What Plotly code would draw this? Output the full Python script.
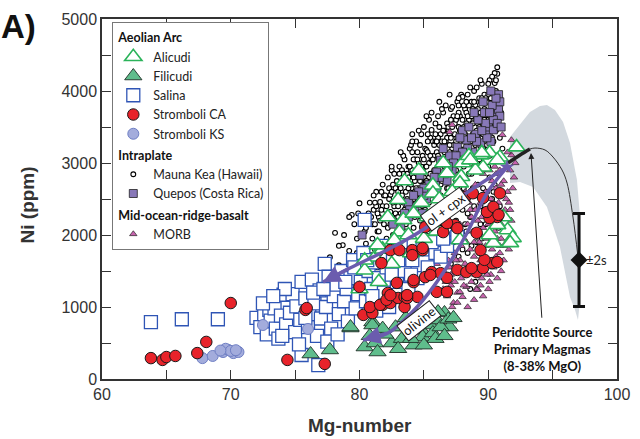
import plotly.graph_objects as go

# ---------------- data (Mg-number, Ni ppm) ----------------
mauna_kea = [
    (77.7,1690),(78.1,2030),(78.7,1860),(79.4,2280),(79.0,1520),(79.8,1950),(79.6,2150),(78.4,1580),(80.0,2440),(79.2,1780),
    (80.2,1650),(80.4,2050),(80.5,1880),(80.7,2300),(80.9,1720),(80.3,2200),(80.8,2450),(81.0,1950),(80.6,1530),(81.0,2150),
    (81.1,2350),(81.2,1800),(81.3,2600),(81.4,2050),(81.5,2250),(81.6,2460),(81.7,1900),(81.8,2700),(81.9,2150),(81.5,1650),(81.3,2400),(81.9,2550),
    (82.0,2350),(82.1,1950),(82.2,2800),(82.3,2500),(82.4,2560),(82.5,2150),(82.6,2700),(82.7,2400),(82.8,2650),(82.9,2250),(82.2,2100),(82.5,2900),(82.9,2050),(82.4,2320),(82.7,2850),
    (83.0,2600),(83.1,2950),(83.2,2300),(83.3,2750),(83.4,2450),(83.5,3050),(83.6,2600),(83.7,2850),(83.8,2200),(83.9,2700),(83.2,2500),(83.4,3100),(83.6,2380),(83.8,2950),(83.1,2150),(83.9,3200),(83.5,2800),(83.7,2500),
    (84.0,2900),(84.1,3150),(84.2,2500),(84.3,2750),(84.4,3300),(84.5,3150),(84.6,2650),(84.7,2950),(84.8,3400),(84.9,2400),(84.1,2650),(84.3,3050),(84.5,2850),(84.7,3250),(84.9,3100),(84.2,2350),(84.6,3450),(84.8,2750),(84.4,2550),(84.0,3250),
    (85.0,2800),(85.1,3200),(85.2,3180),(85.3,2550),(85.4,3000),(85.5,3350),(85.6,3460),(85.7,2750),(85.8,3100),(85.9,3550),(85.1,2950),(85.3,3400),(85.5,2650),(85.7,3300),(85.9,2900),(85.2,2450),(85.4,3600),(85.6,3050),(85.8,3250),(85.0,3500),(85.5,2300),(85.9,2550),
    (86.0,3150),(86.1,3650),(86.2,2850),(86.3,3400),(86.4,3050),(86.5,3700),(86.6,2950),(86.7,3300),(86.8,3550),(86.9,3100),(86.1,3350),(86.3,2700),(86.5,3200),(86.7,3800),(86.9,2800),(86.2,3500),(86.4,3750),(86.6,3450),(86.8,2650),(86.0,2500),(86.4,2400),(86.9,2300),
    (87.0,3400),(87.1,3750),(87.2,3780),(87.3,3000),(87.4,3550),(87.5,3300),(87.6,3850),(87.7,3150),(87.8,3650),(87.9,3450),(87.1,2900),(87.3,3650),(87.5,2750),(87.7,3500),(87.9,3950),(87.2,3200),(87.4,2600),(87.6,3050),(87.8,2850),(87.0,2500),(87.5,2200),(87.9,2450),(87.3,1900),(87.7,1700),
    (88.0,3920),(88.1,3500),(88.2,3750),(88.3,3250),(88.4,3950),(88.5,3600),(88.6,3050),(88.7,3850),(88.8,3400),(88.9,4000),(88.1,3100),(88.3,3700),(88.5,3300),(88.7,2850),(88.9,3650),(88.2,2800),(88.4,2500),(88.6,2250),(88.8,2650),(88.0,2350),(88.3,2050),(88.7,1850),(88.5,1550),(88.9,2400),
    (89.0,3800),(89.1,4050),(89.2,3550),(89.3,3900),(89.4,3350),(89.5,4100),(89.6,3700),(89.7,3950),(89.8,3450),(89.9,3850),(89.1,3200),(89.3,3650),(89.5,3000),(89.7,3300),(89.9,3600),(89.2,2700),(89.4,2400),(89.6,2900),(89.8,2150),(89.0,2550),(89.5,1950),(89.9,2600),(89.3,1750),
    (90.0,3950),(90.1,4150),(90.2,3700),(90.3,4000),(90.4,3500),(90.5,4110),(90.6,3850),(90.7,4240),(90.8,3600),(90.9,3350),(90.2,3300),(90.4,3900),(90.6,3100),(90.8,3050),(90.7,4330),(90.1,2800),(90.3,2500),(90.5,2700),(90.9,2400),(91.0,3700),(91.1,3200),(90.5,4250),
    (81.2,2150),(81.4,2300),(81.6,2200),(81.8,2400),(82.0,2550),(82.1,2250),(82.3,2650),(82.4,2150),(82.6,2450),(82.8,2300),(82.9,2750),(83.0,2400),(83.1,2700),(83.3,2550),(83.3,2900),(83.5,2350),(83.6,2750),(83.8,2650),(83.9,2450),(84.0,2700),
    (84.1,2900),(84.2,3050),(84.3,2600),(84.4,2850),(84.5,2450),(84.6,3000),(84.7,2750),(84.8,2550),(84.9,2900),(85.0,3050),(85.1,2700),(85.2,2950),(85.3,3150),(85.4,2800),(85.5,3100),(85.6,2850),(85.7,3050),(85.8,2700),(85.9,3300),(86.0,2900),
    (86.1,3100),(86.2,3250),(86.3,3000),(86.4,3300),(86.5,2850),(86.6,3150),(86.7,3050),(86.8,3350),(86.9,3500),(87.0,3150),(87.1,3350),(87.2,3500),(87.3,3250),(87.4,3400),(87.5,3600),(87.6,3350),(87.7,3700),(87.8,3200),(87.9,3300),(88.0,3600),
    (88.1,3800),(88.2,3400),(88.3,3550),(88.4,3350),(88.5,3800),(88.6,3500),(88.7,3650),(88.8,3750),(88.9,3300),(89.0,3600),(89.1,3450),(89.2,3750),(89.3,3500),(89.4,3850),(89.5,3600),(89.6,3400),(89.7,3750),(89.8,3900),(89.9,3500),(90.0,3700),
    (90.1,3550),(90.2,3900),(90.3,3650),(90.4,3750),(90.5,3900),(90.6,4000),(90.7,3700),(90.8,3850),(90.3,3350),(90.1,3100),(89.6,3200),(89.2,3100),(88.9,2950),(88.5,2850),(88.1,2650),(87.6,2550),(87.2,2350),(86.8,2150),(86.3,2100),(85.8,2000),
    (85.3,2050),(84.7,2200),(84.2,2100),(83.7,2300),(83.4,1950),(82.8,1850),(82.3,1750),(81.8,1650),(80.9,1450),(81.4,1550),
    (88.2,2150),(88.4,1750),(88.8,1550),(89.1,1900),(89.4,2150),(89.7,2350),(90.0,2200),(90.2,1900),(90.6,2300),(90.8,2100),(89.0,1350),(88.6,1250),(90.4,2600),(89.6,2650),(90.0,2950),(88.4,2300),(87.4,2050),(87.0,1850),(86.6,1750),(87.1,1600),(86.2,1850),(88.0,1800),
    (79.8,1750),(80.6,1800),(81.1,2550),(81.7,2600),(82.5,2950),(83.2,3150),(84.1,3400),(85.2,3650),(85.6,3700),(86.2,3850),(87.0,3950),(87.7,3900),(88.6,4050),(89.4,4150),(90.0,4100),(90.3,4200),
    (78.8,2000),(79.2,2250),(78.4,1850),(79.9,2300),
    (80.5,2100),(80.9,2250),(81.2,2450),(81.5,2050),(81.7,2350),(81.9,1850),(82.1,2400),(82.3,2250),(82.5,2600),(82.7,2150),
    (82.9,2500),(83.0,2250),(83.2,2650),(83.4,2850),(83.6,2150),(83.8,2800),(84.0,2450),(84.2,2800),(84.4,2650),(84.6,2800),
    (84.8,2950),(85.0,2600),(85.2,2750),(85.4,2450),(85.6,2650),(85.8,2900),(86.0,3300),(86.2,3050),(86.4,2750),(86.6,3300),
    (86.8,2950),(87.0,3250),(87.2,2950),(87.4,3150),(87.6,3650),(87.8,3450),(88.0,3250),(88.2,3050),(88.4,3650),(88.6,3300),
    (88.8,3550),(89.0,3250),(89.2,3350),(89.4,3700),(89.6,3550),(89.8,3700),(90.0,3450),(90.2,3450),(90.4,3300),(90.6,3450),
    (90.8,3950),(81.0,1650),(81.6,1750),(82.2,1900),(82.6,2000),(83.0,2050),(83.6,2050),(84.3,2250),(84.9,2650),(85.5,2850),
    (86.1,2650),(86.7,2850),(87.3,3100),(87.9,3100),(88.5,3150),(89.1,3650),(89.7,3600),(90.3,3800),(90.9,3750),(85.1,2350),
    (85.7,2550),(86.3,2550),(86.9,2650),(87.5,2900),(88.1,2950),(88.7,3100),(89.3,3050),(89.9,3250),(90.5,3550),(83.1,2850),
    (83.9,2950),(84.5,3050),(84.1,3300),(85.3,3300),(85.9,3400),(86.5,3450),(87.1,3600),(87.7,3800),(88.3,3850),(88.9,3850),
    (89.5,3900),(90.1,4000),(90.6,4150),
]

quepos = [
    (80.2,2000),(84.3,2390),(84.7,2440),(84.7,2830),(85.5,2625),(86.0,2875),(86.3,3040),(86.5,3000),(87.6,3220),(88.3,3320),
    (89.4,3280),(90.0,3430),(90.0,3500),(90.4,3460),(90.5,3690),(90.7,3780),(90.8,3740),(90.8,3950),(90.6,3600),(89.8,3550),
    (89.0,3400),(88.8,3150),(87.9,3050),(87.2,2900),(86.8,2750),(85.9,2700),(85.2,2500),(84.9,2300),(83.8,2250),(83.2,2100),
    (82.6,2150),(88.0,3450),(89.2,3600),(90.2,3300),(87.0,3100),(86.0,2600),(85.0,2550),(90.9,3850),(89.7,3700),(83.8,2450),(88.5,3500),
    (90.3,3800),(90.6,3900),(90.9,3650),(90.4,3600),(90.1,3700),(89.9,3350),(89.5,3450),(89.1,3300),(88.7,3350),(88.4,3200),
    (88.0,3150),(87.5,3100),(87.3,3000),(86.9,2950),(86.6,2850),(86.2,2800),(85.8,2800),(85.4,2700),(85.0,2650),(84.6,2600),
    (84.2,2550),(83.9,2350),(83.5,2300),(88.9,3700),(89.6,3850),(90.7,3550),(91.0,3500),(87.8,3350),(86.5,3200),(90.2,4000),
]

morb = [
    (87.2,3530),(87.0,3430),(91.1,3390),(91.8,3320),(91.8,3110),(90.9,2900),(91.2,2750),(91.5,2600),(90.6,2650),(90.2,2500),
    (90.8,2450),(91.3,2350),(89.9,2300),(90.4,2200),(91.0,2150),(89.6,2100),(90.1,2050),(90.7,1950),(91.4,2050),(89.3,1900),
    (89.8,1850),(90.3,1800),(90.9,1750),(88.9,1700),(89.4,1650),(89.9,1600),(90.4,1550),(91.0,1500),(88.5,1500),(89.0,1450),
    (89.5,1400),(90.1,1350),(88.3,1280),(89.1,1260),(88.0,1140),(87.3,1060),(89.2,1240),(87.6,1200),(88.7,1350),(87.9,1400),
    (88.2,1600),(88.6,1800),(88.1,1950),(88.8,2050),(89.2,2200),(88.6,2350),(89.4,2450),(89.8,2600),(90.3,2750),(87.8,2150),
    (87.4,1750),(87.0,1550),(86.7,1350),(86.9,1900),(87.5,2400),(88.2,2600),(89.0,2700),(89.6,2850),(90.5,2950),(91.6,2450),
    (91.2,1850),(90.6,1700),(91.7,2900),(86.5,1250),(87.1,1300),(88.4,1000),(89.6,1150),(90.0,1250),(87.8,1650),(91.5,3150),
    (87.8,1210),(87.6,1060),(87.2,1000),(89.1,1240),
    (88.8,1500),(89.2,1550),(89.7,1500),(90.2,1450),(90.7,1400),(91.2,1650),(91.6,1800),(91.0,1950),(90.5,2050),(90.0,2150),
    (89.5,2250),(89.0,2350),(88.5,2450),(88.0,2500),(91.8,2200),(91.4,2500),(91.0,2700),(90.6,2850),(90.1,2900),(89.5,2950),
    (89.1,2550),(88.7,2250),(88.3,1900),(87.9,1850),(87.5,1650),(87.1,1450),(86.8,1150),(87.4,1350),(88.1,1300),(88.9,1100),
    (89.4,1300),(89.9,1450),(90.4,1650),(90.9,1850),(91.3,2050),(91.7,2350),(91.9,2650),(92.0,2800),(92.1,3000),(88.9,1900),
    (89.4,2000),(89.8,1950),(90.3,2350),(90.8,2600),(88.4,2150),(87.7,1900),(87.3,2000),(86.9,1650),(86.3,1450),(86.0,1600),
    (86.4,1900),(85.8,1800),
]

salina = [
    (63.8,790),(66.2,830),(69.0,830),
    (72.0,850),(72.3,720),(72.6,900),(72.8,620),(73.0,960),(73.1,810),(73.4,980),(73.5,700),(73.9,880),(74.1,1170),(74.3,760),
    (74.6,920),(74.8,1180),(75.0,650),(75.1,1010),(75.4,820),(75.5,1350),(75.8,1120),(76.0,720),(76.1,900),(76.3,1380),
    (76.5,1050),(76.7,600),(76.9,1230),(77.0,840),(77.3,1600),(77.4,1000),(77.6,1420),(77.8,700),(78.0,1150),(78.2,1310),
    (78.4,900),(78.6,1500),(78.8,1080),(79.0,1250),(79.1,800),(79.3,1400),(79.5,1650),(79.7,980),(79.9,1180),(80.1,1350),
    (80.3,1750),(80.4,2210),(80.5,1080),(80.7,1500),(80.9,1250),(81.1,1620),(81.3,950),(81.5,1400),(81.7,1850),(81.9,1200),
    (82.1,1550),(82.3,1000),(82.6,1700),(82.9,1350),(83.2,1900),(83.5,1500),(83.8,1250),(84.1,1650),(84.5,1400),(84.9,1800),
    (85.3,1550),(85.9,1750),(86.3,1700),(86.8,1850),(87.6,1970),(75.5,333),(76.8,194),(73.7,560),(75.3,480),(77.5,520),
    (78.3,620),(74.2,1250),
    (72.5,1050),(73.3,1150),(74.0,600),(75.8,850),(76.4,1200),(77.2,1250),(78.9,1350),(79.6,1550),(80.6,1650),(81.0,1150),
    (82.5,1450),(83.0,1650),(84.0,1450),(85.6,1900),(86.5,1950),
]

filicudi = [
    (76.2,347),(77.7,403),(79.3,708),(79.3,722),(81.0,792),(81.0,750),(80.4,444),(81.2,500),(81.4,375),(82.5,500),
    (83.9,681),(84.8,681),(85.5,750),(86.0,819),(86.6,917),(87.0,722),(84.9,583),(85.7,639),(86.3,722),(83.3,560),
    (85.2,860),(86.9,830),(84.2,470),(82.0,620),
    (82.8,720),(83.6,850),(84.4,900),(85.9,560),(86.6,600),(87.3,850),(81.8,700),(80.8,600),(83.0,420),(84.0,560),
    (85.0,470),(86.1,930),
]

alicudi = [
    (92.2,3220),(90.9,3080),(90.1,3140),(89.4,3110),(88.0,3000),(86.8,2860),(87.9,2810),(89.6,2940),(90.7,3040),(85.7,2690),
    (83.4,2210),(83.1,2040),(85.7,2580),(87.8,2720),(83.0,2490),(82.7,1930),(80.4,1510),(81.2,1690),(81.8,1800),(84.2,2300),
    (84.8,2450),(86.2,2500),(91.5,2070),(91.9,1960),(91.7,1890),(90.7,2140),(90.4,1890),(90.1,2000),(91.2,2250),(86.0,2050),
    (85.0,1950),(84.0,1750),(82.5,1600),(81.5,1350),(80.0,1250),(83.5,2750),(84.6,2900),(86.5,3000),(88.5,3100),(89.0,2900),
    (87.2,2600),(85.3,2250),(83.8,2000),(82.2,2250),(81.4,1860),(80.4,1650),(87.8,1930),(88.6,3040),(89.5,3140),
]

stromboli_ca = [
    (63.8,290),(64.7,265),(65.0,305),(65.7,320),(67.4,360),(68.1,515),(70.0,1055),(74.4,265),(75.8,960),(77.3,210),
    (80.0,1280),(80.3,890),(81.0,915),(80.8,1000),(81.8,1030),(82.4,1055),(83.0,1125),(83.5,1140),(83.5,1000),(84.5,1140),
    (86.0,1210),(86.8,1210),(81.6,1030),(82.2,1195),(83.7,1125),(82.1,1100),(82.4,1165),(83.7,1165),(82.9,1335),(84.2,1345),
    (85.1,1415),(85.6,1485),(86.3,1470),(84.2,1375),(85.5,1445),(86.8,1405),(81.7,1610),(82.4,1790),(83.1,1790),(84.1,1790),
    (84.9,1790),(84.9,1820),(84.1,1720),(87.6,1515),(88.3,1485),(89.1,1485),(89.6,1540),(90.3,1610),(90.7,1625),(89.7,1655),
    (88.7,1540),(89.4,1790),(86.5,2040),(87.4,2140),(85.1,2110),(86.8,2165),(87.6,2095),(89.1,2030),(88.2,2530),(88.8,2580),
    (89.6,2515),(90.9,2580),(90.5,2280),(90.7,2250),(90.1,2235),(89.9,2320),(90.4,2390),(90.8,2280),(75.9,985),
]

stromboli_ks = [
    (67.8,290),(68.6,320),(69.4,375),(69.8,405),(70.2,360),(70.6,375),(69.6,420),(70.0,390),(72.5,750),(76.0,695),(69.2,395),(70.4,400),
]

# envelope of peridotite-source primary magmas (closed outline)
band_mg = [91.69,92.47,93.24,94.02,94.56,95.18,95.81,96.35,96.89,97.13,97.20,97.13,96.97,96.74,96.35,95.57,94.56,93.48,92.47,91.69]
band_ni = [3361,3528,3708,3792,3806,3736,3569,3278,2764,2250,1611,1097,819,958,1139,1833,2389,2667,2736,2722]

curve_thick_mg = [91.53,92.47,93.24]
curve_thick_ni = [3000,3111,3194]
curve_thin_mg = [93.24,93.63,94.41,95.03,95.73,96.12,96.58,96.97]
curve_thin_ni = [3194,3208,3181,3083,2903,2722,2250,1694]

olcpx_mg = [91.46,87.57,85.24,82.14,79.26,77.17]
olcpx_ni = [2944,2486,2111,1792,1542,1347]
olivine_mg = [91.46,89.9,88.35,86.49,84.47,82.21,80.27]
olivine_ni = [2944,2583,2028,1472,1000,639,542]

err_mg = [97.05]
err_ni = [1653]
err_2s = [645]

x_ticks = [60,65,70,75,80,85,90,95,100]
x_labels = ["60","","70","","80","","90","","100"]
y_ticks = [0,500,1000,1500,2000,2500,3000,3500,4000,4500,5000]
y_labels = ["0","","1000","","2000","","3000","","4000","","5000"]

# ---------------- figure ----------------
def xs(p): return [a for a, b in p]
def ys(p): return [b for a, b in p]

PURPLE = "#6b5cae"
fig = go.Figure()

fig.add_trace(go.Scatter(x=band_mg, y=band_ni, mode="lines", fill="toself",
                         fillcolor="#d3d9df", line=dict(width=0), showlegend=False, hoverinfo="skip"))

AE = dict(legendgroup="aeolian", legendgrouptitle_text="<b>Aeolian Arc</b>")
IP = dict(legendgroup="intra", legendgrouptitle_text="<b>Intraplate</b>")
MO = dict(legendgroup="morb", legendgrouptitle_text="<b>Mid-ocean-ridge-basalt</b>")

fig.add_trace(go.Scatter(x=xs(mauna_kea), y=ys(mauna_kea), mode="markers", name="Mauna Kea (Hawaii)", legendrank=6,
                         marker=dict(symbol="circle", size=4.8, color="white", line=dict(color="black", width=1.1)), **IP))
fig.add_trace(go.Scatter(x=xs(quepos), y=ys(quepos), mode="markers", name="Quepos (Costa Rica)", legendrank=7,
                         marker=dict(symbol="square", size=8, color="#8878b8", line=dict(color="#222", width=0.8)), **IP))
fig.add_trace(go.Scatter(x=xs(morb), y=ys(morb), mode="markers", name="MORB", legendrank=8,
                         marker=dict(symbol="triangle-up", size=6.5, color="#c863ae", line=dict(color="#222", width=0.7)), **MO))
fig.add_trace(go.Scatter(x=xs(salina), y=ys(salina), mode="markers", name="Salina", legendrank=3,
                         marker=dict(symbol="square", size=13, color="white", line=dict(color="#2f55b5", width=1.3)), **AE))
fig.add_trace(go.Scatter(x=xs(filicudi), y=ys(filicudi), mode="markers", name="Filicudi", legendrank=2,
                         marker=dict(symbol="triangle-up", size=15, color="#5fbd8c", line=dict(color="#1e2e26", width=0.9)), **AE))
fig.add_trace(go.Scatter(x=xs(alicudi), y=ys(alicudi), mode="markers", name="Alicudi", legendrank=1,
                         marker=dict(symbol="triangle-up", size=15, color="white", line=dict(color="#2bb35a", width=1.6)), **AE))
fig.add_trace(go.Scatter(x=xs(stromboli_ks), y=ys(stromboli_ks), mode="markers", name="Stromboli KS", legendrank=5,
                         marker=dict(symbol="circle", size=11, color="#a3acdc", line=dict(color="#6f7fc4", width=1)), **AE))
fig.add_trace(go.Scatter(x=xs(stromboli_ca), y=ys(stromboli_ca), mode="markers", name="Stromboli CA", legendrank=4,
                         marker=dict(symbol="circle", size=11.5, color="#e8232a", line=dict(color="#1a1a1a", width=1)), **AE))

fig.add_trace(go.Scatter(x=curve_thick_mg, y=curve_thick_ni, mode="lines", line=dict(color="#222", width=3.5, shape="spline"),
                         showlegend=False, hoverinfo="skip"))
fig.add_trace(go.Scatter(x=curve_thin_mg, y=curve_thin_ni, mode="lines", line=dict(color="#333", width=1, shape="spline"),
                         showlegend=False, hoverinfo="skip"))

fig.add_trace(go.Scatter(x=olcpx_mg, y=olcpx_ni, mode="lines", line=dict(color=PURPLE, width=3.5, shape="spline"),
                         showlegend=False, hoverinfo="skip"))
fig.add_trace(go.Scatter(x=olivine_mg, y=olivine_ni, mode="lines", line=dict(color=PURPLE, width=3.5, shape="spline"),
                         showlegend=False, hoverinfo="skip"))
fig.add_trace(go.Scatter(x=olcpx_mg[:1], y=olcpx_ni[:1], mode="markers",
                         marker=dict(symbol="star", size=11, color=PURPLE), showlegend=False, hoverinfo="skip"))

fig.add_trace(go.Scatter(x=err_mg, y=err_ni, mode="markers",
                         marker=dict(symbol="diamond", size=13, color="#111"),
                         error_y=dict(type="data", array=err_2s, color="#111", thickness=3, width=6),
                         showlegend=False, hoverinfo="skip"))

LFONT = "Lato, Open Sans, sans-serif"
AFONT = "Liberation Sans, Arial"
ann = []
# purple arrowheads
ann.append(dict(x=olcpx_mg[-1], y=olcpx_ni[-1], ax=olcpx_mg[-2], ay=olcpx_ni[-2], xref="x", yref="y", axref="x", ayref="y",
                showarrow=True, arrowhead=2, arrowsize=1, arrowwidth=3.5, arrowcolor=PURPLE, text=""))
ann.append(dict(x=olivine_mg[-1], y=olivine_ni[-1], ax=olivine_mg[-2], ay=olivine_ni[-2], xref="x", yref="y", axref="x", ayref="y",
                showarrow=True, arrowhead=2, arrowsize=1, arrowwidth=3.5, arrowcolor=PURPLE, text=""))
ann.append(dict(x=86.7, y=2360, xref="x", yref="y", text="ol + cpx", showarrow=False, textangle=-36,
                font=dict(family=LFONT, size=13, color="#111"), bgcolor="white", bordercolor="#222", borderwidth=1, borderpad=1))
ann.append(dict(x=84.6, y=806, xref="x", yref="y", text="olivine", showarrow=False, textangle=-38,
                font=dict(family=LFONT, size=13, color="#111"), bgcolor="white", bordercolor="#222", borderwidth=1, borderpad=1))
# peridotite annotation
ann.append(dict(x=93.32, y=3139, ax=94.17, ay=830, xref="x", yref="y", axref="x", ayref="y", text="",
                showarrow=True, arrowhead=2, arrowsize=1.2, arrowwidth=1, arrowcolor="#222"))
ann.append(dict(x=94.25, y=790, xref="x", yref="y", yanchor="top", text="<b>Peridotite Source<br>Primary Magmas<br>(8-38% MgO)</b>",
                showarrow=False, font=dict(family=LFONT, size=13, color="#111"), align="center"))
ann.append(dict(x=97.4, y=1653, xref="x", yref="y", xanchor="left", text="±2s", showarrow=False,
                font=dict(family=LFONT, size=13, color="#222")))
ann.append(dict(x=-0.2, y=1.035, xref="paper", yref="paper", xanchor="left", yanchor="top", text="<b>A)</b>", showarrow=False,
                font=dict(family=AFONT, size=33, color="#111")))
# axis titles
ann.append(dict(x=0.5, y=-0.128, xref="paper", yref="paper", xanchor="center", yanchor="middle", text="<b>Mg-number</b>",
                showarrow=False, font=dict(family=AFONT, size=19, color="#333")))
ann.append(dict(x=-0.145, y=0.483, xref="paper", yref="paper", xanchor="center", yanchor="middle", text="<b>Ni (ppm)</b>",
                textangle=-90, showarrow=False, font=dict(family=AFONT, size=19, color="#333")))

fig.update_layout(
    width=640, height=439, margin=dict(l=102, r=23, t=19, b=60, autoexpand=False),
    paper_bgcolor="white", plot_bgcolor="white",
    annotations=ann,
    legend=dict(x=0.02, y=0.992, xanchor="left", yanchor="top", bgcolor="white", bordercolor="#777", borderwidth=1,
                font=dict(family=LFONT, size=12.5, color="#222"), traceorder="grouped", tracegroupgap=2,
                itemsizing="trace", grouptitlefont=dict(family=LFONT, size=12.5, color="#111")),
    xaxis=dict(range=[60, 100], tickmode="array", tickvals=x_ticks, ticktext=x_labels, ticks="inside", ticklen=9,
               tickcolor="#333", showline=True, linecolor="#333", linewidth=1.5, mirror="ticks", showgrid=False, zeroline=False,
               tickfont=dict(family=AFONT, size=16, color="#333")),
    yaxis=dict(range=[0, 5000], tickmode="array", tickvals=y_ticks, ticktext=y_labels, ticks="inside", ticklen=9,
               tickcolor="#333", showline=True, linecolor="#333", linewidth=1.5, mirror="ticks", showgrid=False, zeroline=False,
               tickfont=dict(family=AFONT, size=16, color="#333")),
    showlegend=True,
)

fig.write_html("out.html")
